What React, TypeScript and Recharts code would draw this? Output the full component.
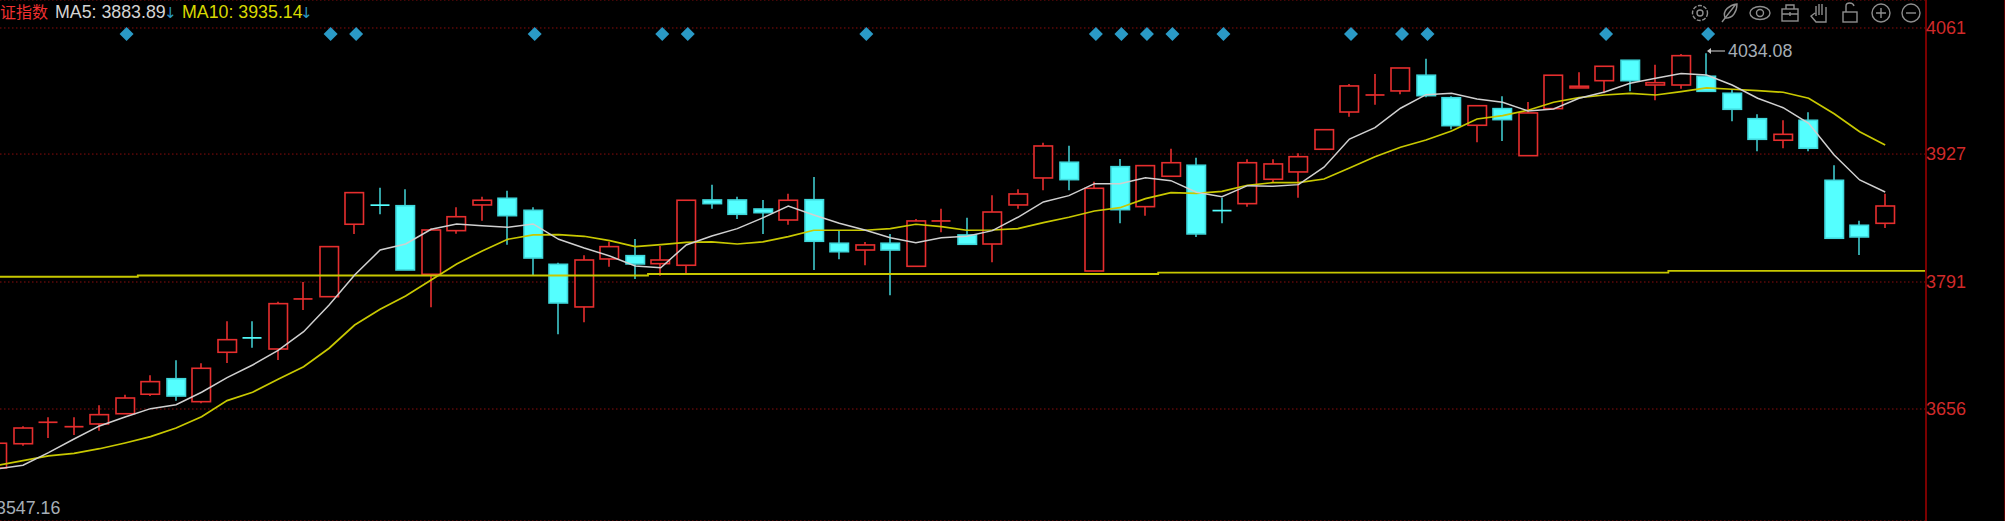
import React from 'react';
import { ComposedChart, Bar, Line, XAxis, YAxis, CartesianGrid } from 'recharts';

const opens = [3593.3,3619.1,3641.9,3637.2,3640.1,3651.0,3671.7,3688.2,3663.8,3716.3,3731.6,3719.8,3773,3775.4,3852.4,3872.7,3872.1,3799.2,3845.6,3872.9,3880,3867.2,3809.8,3764.5,3815.5,3819,3810.5,3808.8,3878.2,3878.2,3868.6,3856.9,3878.5,3832.2,3825,3832.2,3807.7,3855.9,3841,3831.4,3872.9,3901.6,3918.3,3802.7,3913.6,3871.1,3903.4,3915.1,3866.9,3874.3,3900.2,3908,3932.1,3971.7,3989.8,3994.1,4010.8,3986.9,3957.6,3975.3,3925.3,3975.3,3997.3,4005,4026.7,4000.4,4000.4,4009.7,3991.6,3964.6,3941.7,3962.9,3899.1,3851.3,3853.4];
const closes = [3619.6,3635.8,3641.9,3637.2,3650.0,3667.7,3685.1,3669.8,3699.3,3729.7,3731.4,3768.0,3773,3828.6,3886,3872.5,3803.8,3846.3,3860.4,3877.9,3861.5,3816.5,3768.7,3814.4,3828.6,3810.2,3814.4,3877.9,3874.3,3863,3864.7,3877.9,3834.3,3823.2,3830.4,3825,3855.9,3855.9,3831.1,3865.4,3884.6,3935.6,3899.8,3890.6,3867.9,3914.7,3917.8,3842.1,3866.7,3917.8,3916.5,3924.2,3952.9,3999.4,3989.8,4018.5,3989.1,3957.2,3978.4,3963.6,3970.7,4010.8,3999.1,4020.3,4005,4002.9,4031.6,3993.7,3974.6,3942.7,3948,3933.2,3837.5,3838.9,3871.8];
const highs = [3619.6,3637.6,3647.2,3647.2,3660.0,3671.2,3691.9,3707.8,3704.6,3749.3,3749.3,3770.1,3791,3828.6,3886,3891.3,3889.6,3848.1,3870.4,3881.7,3888.1,3870.4,3811.5,3819.4,3833.9,3836.7,3829.3,3877.9,3894.5,3881.7,3878.2,3884.9,3902.6,3845.6,3833.6,3842.1,3858,3869,3859.4,3883.2,3889.6,3939.1,3935.9,3897.7,3921.8,3914.7,3932.7,3923.2,3880.6,3921.5,3921.5,3927.8,3952.9,4001.5,4012.1,4018.5,4028.4,3988.4,3978.4,3988.4,3982.4,4010.8,4013.9,4020.3,4026.7,4022,4033.4,4034.08,3995.1,3969.3,3962.9,3971.4,3915.1,3856.2,3884.9];
const lows = [3592.3,3617.0,3625.2,3628.4,3633.0,3650.7,3669.8,3664.9,3662.1,3704.9,3721.2,3708.1,3761.3,3775.4,3842.1,3863,3803.8,3764.1,3842.4,3856.2,3830.7,3798.2,3735.4,3748.2,3807.3,3794.2,3797.7,3800.3,3869,3858,3842.1,3851.9,3803.8,3815.2,3808.8,3776.9,3807.7,3843.9,3831.1,3812,3869,3888.5,3888.5,3802.7,3853.4,3861.5,3903.4,3838.9,3853.4,3871.1,3897.3,3880.6,3932.1,3966.7,3979.5,3990.6,3987.4,3953.4,3939.5,3940.9,3925.3,3975.3,3997.3,3991.6,3993.7,3984.2,3996.5,3993.7,3961.9,3930,3933.2,3930,3837.5,3819.7,3848.4];
const ma5 = [3592.3,3596.2,3609.6,3624.1,3638,3647.5,3656.4,3660.6,3673.8,3689.3,3702.8,3718.4,3738.2,3766.6,3798.5,3825,3831.4,3847.1,3852.7,3850.9,3849.2,3852.7,3836.4,3827.2,3818.7,3808,3806.2,3830.4,3839.9,3847.7,3859.1,3871.8,3862.3,3853.4,3846.3,3838.1,3832.8,3838.1,3839.6,3845.6,3859.8,3876.1,3882.8,3895.5,3895.5,3901.9,3898.7,3886.4,3881.7,3893.4,3892.8,3894.5,3913,3943,3955.1,3975.7,3990.1,3991.6,3985.6,3982.1,3972.8,3974.9,3986.3,3993,4002.3,4007.6,4012.5,4011.1,4000.4,3986.3,3976.3,3959.7,3926,3899.5,3886.7];
const ma10 = [3596.2,3601.1,3606.1,3608.9,3613.8,3619.9,3626.6,3635.8,3647.8,3664.9,3673.8,3687.6,3701,3720.6,3745.3,3762,3776.2,3793.2,3810.2,3824,3836.4,3841,3841.3,3839.6,3834.9,3828.6,3830.7,3833.2,3833.6,3831.4,3833.6,3839.2,3846,3846,3846,3847.7,3852.4,3849.8,3846,3846.3,3847.7,3854.1,3859.8,3866.5,3870,3879.6,3886,3885.3,3887.4,3893.8,3896.6,3896.6,3900.5,3912.2,3924.2,3934.2,3942,3951.5,3964.3,3967.8,3973.6,3982.1,3986.9,3989.8,3991.6,3989.8,3993.3,3997.3,3995.9,3994.4,3992.7,3986.3,3969.9,3950.8,3936.7];
// long average only moves in small steps: first candle index of each level, then the level
const longMaStarts = [0, 6, 26, 46, 66];
const longMaLevels = [3796.6, 3797.9, 3799.5, 3801, 3802.9];
const markerIndexes = [5, 13, 14, 21, 26, 27, 34, 43, 44, 45, 46, 48, 53, 55, 56, 63, 67];
const markerLevel = 4054.7;
const yTicks = [4061, 3927, 3791, 3656];

const RED = '#E62E2E';
const CYAN = '#54FFFF';
const WICK_CYAN = '#3FC8CC';

const rows = Array.from({ length: 77 }, (_, i) => {
  let level = longMaLevels[0];
  longMaStarts.forEach((s, k) => {
    if (i >= s) level = longMaLevels[k];
  });
  return {
    index: i,
    open: opens[i],
    close: closes[i],
    high: highs[i],
    low: lows[i],
    range: i < opens.length ? [lows[i], highs[i]] : null,
    ma5: i < ma5.length ? ma5[i] : null,
    ma10: i < ma10.length ? ma10[i] : null,
    longMa: level,
    marker: markerIndexes.includes(i) ? markerLevel : null,
  };
});

const Candle = (props: any) => {
  const { x, y, width, height, payload } = props;
  if (!payload || payload.range == null) return null;
  const { open, close, high, low } = payload;
  const k = height / (high - low);
  const cx = Math.round(x + width / 2);
  const up = close >= open;
  const top = y + (high - Math.max(open, close)) * k;
  const bottom = y + (high - Math.min(open, close)) * k;
  const doji = bottom - top < 1;
  return (
    <g>
      <line x1={cx} x2={cx} y1={y} y2={y + height} stroke={up ? RED : WICK_CYAN} strokeWidth={1.6} />
      {doji ? (
        <line x1={cx - 9.5} x2={cx + 9.5} y1={top} y2={top} stroke={up ? RED : CYAN} strokeWidth={1.7} />
      ) : (
        <rect
          x={cx - 9}
          y={top}
          width={18.5}
          height={bottom - top}
          fill={up ? '#000' : CYAN}
          stroke={up ? RED : '#3FD8DC'}
          strokeWidth={1.6}
        />
      )}
    </g>
  );
};

const Diamond = (props: any) => {
  const { cx, cy, payload } = props;
  if (payload.marker == null || cx == null) return <g key={payload.index} />;
  const x = cx + 1.5;
  return <path key={payload.index} d={`M${x} ${cy - 7}L${x + 7} ${cy}L${x} ${cy + 7}L${x - 7} ${cy}Z`} fill="#2A9AC6" />;
};

const Toolbar = () => (
  <g fill="none" stroke="#8e8e8e" strokeWidth={1.4}>
    <circle cx={1700} cy={13} r={7.5} strokeDasharray="4 1.5" />
    <circle cx={1700} cy={13} r={3} />
    <path d="M1722 22L1736 4M1725 18C1722 10 1730 5 1737 4C1737 11 1733 19 1725 18Z" />
    <ellipse cx={1760} cy={13} rx={10} ry={6.5} />
    <circle cx={1760} cy={13} r={3.5} />
    <rect x={1782} y={9} width={16} height={12} />
    <path d="M1786 9V5H1794V9M1782 14H1798M1790 12V16" />
    <path d="M1815 13L1811 16L1816 22H1826V7M1816 16V6M1819 15V4M1822 15V4M1826 15V7" />
    <rect x={1843} y={12} width={14} height={10} />
    <path d="M1846 12V6C1846 2 1853 2 1854 6" />
    <circle cx={1881} cy={13} r={9} />
    <path d="M1876 13H1886M1881 8V18" />
    <circle cx={1911} cy={13} r={9} />
    <path d="M1906 13H1916" />
  </g>
);

const Labels = () => (
  <svg width={2005} height={521} style={{ position: 'absolute', left: 0, top: 0, pointerEvents: 'none' }}>
    <g fontFamily="Liberation Sans, Arial, sans-serif" fontSize={17.8}>
      <text x={0} y={18} fontSize={16} fontFamily="Noto Sans CJK SC" fill="#F03030">证指数</text>
      <text x={55} y={18} fill="#D4D4D4">MA5: 3883.89</text>
      <text x={182} y={18} fill="#D8D800">MA10: 3935.14</text>
      <text x={164} y={18} fill="#2A9AC6" fontFamily="DejaVu Sans" fontSize={15}>↓</text>
      <text x={300} y={18} fill="#2A9AC6" fontFamily="DejaVu Sans" fontSize={15}>↓</text>
      <text x={1728} y={57} fill="#A6AEB6">4034.08</text>
      <text x={-4} y={514} fill="#A6AEB6">3547.16</text>
    </g>
    <path d="M1708 51H1725" stroke="#9a9a9a" strokeWidth={1.4} />
    <path d="M1707 51L1711 48V54Z" fill="#C8C8C8" />
    <Toolbar />
  </svg>
);

export default function App() {
  return (
    <div style={{ position: 'absolute', left: 0, top: 0, width: 2005, height: 521, background: '#000', overflow: 'hidden' }}>
      <ComposedChart width={2005} height={521} data={rows} margin={{ top: 0, right: 0, left: 0, bottom: 0 }}>
        <CartesianGrid horizontal vertical={false} stroke="#8A0C0C" strokeDasharray="1.5 2.5" />
        <XAxis type="number" dataKey="index" domain={[0.098, 75.6]} allowDataOverflow hide />
        <YAxis
          orientation="right"
          width={79}
          domain={[3536.96, 4090.76]}
          allowDataOverflow
          ticks={yTicks}
          interval={0}
          tickLine={false}
          tickMargin={-6}
          axisLine={{ stroke: '#7A0000', strokeWidth: 2 }}
          tick={{ fill: '#D02A2A', fontSize: 18, fontFamily: 'Liberation Sans, Arial, sans-serif' }}
        />
        <Bar dataKey="range" barSize={19} shape={Candle} isAnimationActive={false} />
        <Line dataKey="longMa" type="step" stroke="#C8C800" strokeWidth={1.8} dot={false} isAnimationActive={false} />
        <Line dataKey="ma10" type="linear" stroke="#C8C800" strokeWidth={1.7} dot={false} isAnimationActive={false} />
        <Line dataKey="ma5" type="linear" stroke="#D0D0D0" strokeWidth={1.5} dot={false} isAnimationActive={false} />
        <Line dataKey="marker" stroke="none" dot={Diamond} isAnimationActive={false} />
      </ComposedChart>
      <div style={{ position: 'absolute', left: 2004, top: 0, width: 1, height: 521, background: '#5A0000' }} />
      <Labels />
    </div>
  );
}
